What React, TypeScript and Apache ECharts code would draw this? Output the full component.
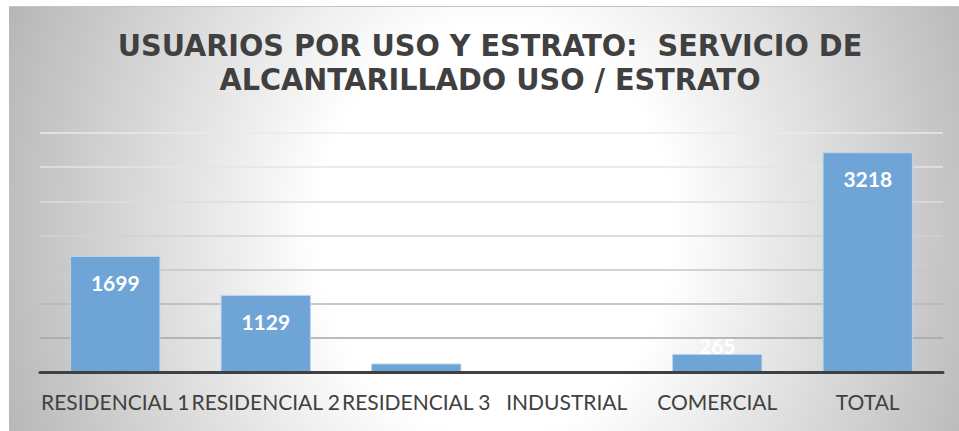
import React, { useEffect, useRef } from "react";
import * as echarts from "echarts";

const titleLines = ["USUARIOS POR USO Y ESTRATO:  SERVICIO DE", "ALCANTARILLADO USO / ESTRATO"];
const categories = ["RESIDENCIAL 1", "RESIDENCIAL 2", "RESIDENCIAL 3", "INDUSTRIAL", "COMERCIAL", "TOTAL"];
const values = [1699, 1129, 125, 0, 265, 3218];
const yMin = 0;
const yMax = 3500;
const yInterval = 500;
const gridColors = ["#a0a0a0", "#a6a6a6", "#b6b6b6", "#c6c6c6", "#d2d2d2", "#dcdcdc", "#e4e4e4", "#eaeaea"];

export default function App() {
  const ref = useRef<HTMLDivElement>(null);
  useEffect(() => {
    if (!ref.current) return;
    const chart = echarts.init(ref.current, null, { renderer: "svg" });
    const bigThreshold = 500;
    chart.setOption({
      animation: false,
      backgroundColor: "transparent",
      graphic: titleLines.map((line, i) => ({
        type: "text",
        x: 481,
        y: 24 + i * 34,
        scaleX: 1.1,
        scaleY: 1.03,
        style: {
          text: line,
          font: 'bold 29px "DejaVu Sans Condensed", "Liberation Sans", sans-serif',
          fill: "#404040",
          align: "center",
          verticalAlign: "top",
          lineHeight: 29,
        },
      })),
      grid: { left: 31, right: 16, top: 127, bottom: 59, containLabel: false },
      xAxis: {
        type: "category",
        data: categories,
        axisLine: { show: true, lineStyle: { color: "#404040", width: 3 } },
        axisTick: { show: false },
        axisLabel: { color: "#404040", fontFamily: "Lato", fontSize: 21, margin: 19, interval: 0 },
        z: 5,
      },
      yAxis: {
        type: "value",
        min: yMin,
        max: yMax,
        interval: yInterval,
        axisLabel: { show: false },
        axisLine: { show: false },
        axisTick: { show: false },
        splitLine: { show: true, lineStyle: { color: gridColors, width: 1.5 } },
      },
      series: [
        {
          type: "bar",
          data: values.map((v) => ({
            value: v,
            label:
              v >= bigThreshold
                ? { position: "insideTop", distance: 16 }
                : { position: "top", distance: -2 },
          })),
          barWidth: "60%",
          itemStyle: { color: "#6fa4d7", borderColor: "rgba(190,215,240,0.9)", borderWidth: 1 },
          label: {
            show: true,
            color: "#ffffff",
            fontFamily: "Lato",
            fontWeight: "bold",
            fontSize: 21,
          },
        },
      ],
    });
    return () => chart.dispose();
  }, []);
  return (
    <div style={{ position: "absolute", left: 0, top: 0, width: 959, height: 431, background: "#ffffff" }}>
      <div
        style={{
          position: "absolute",
          left: 9,
          top: 6,
          width: 950,
          height: 425,
          background:
            "radial-gradient(ellipse 590px 680px at 486px 224px, #ffffff 0%, #ffffff 30%, #a8a8a8 100%)",
        }}
      >
        <div style={{ position: "absolute", left: 0, top: 0, width: 950, height: 1, background: "#c4c4c4" }} />
        <div ref={ref} style={{ position: "absolute", left: 0, top: 0, width: 950, height: 425 }} />
      </div>
    </div>
  );
}
